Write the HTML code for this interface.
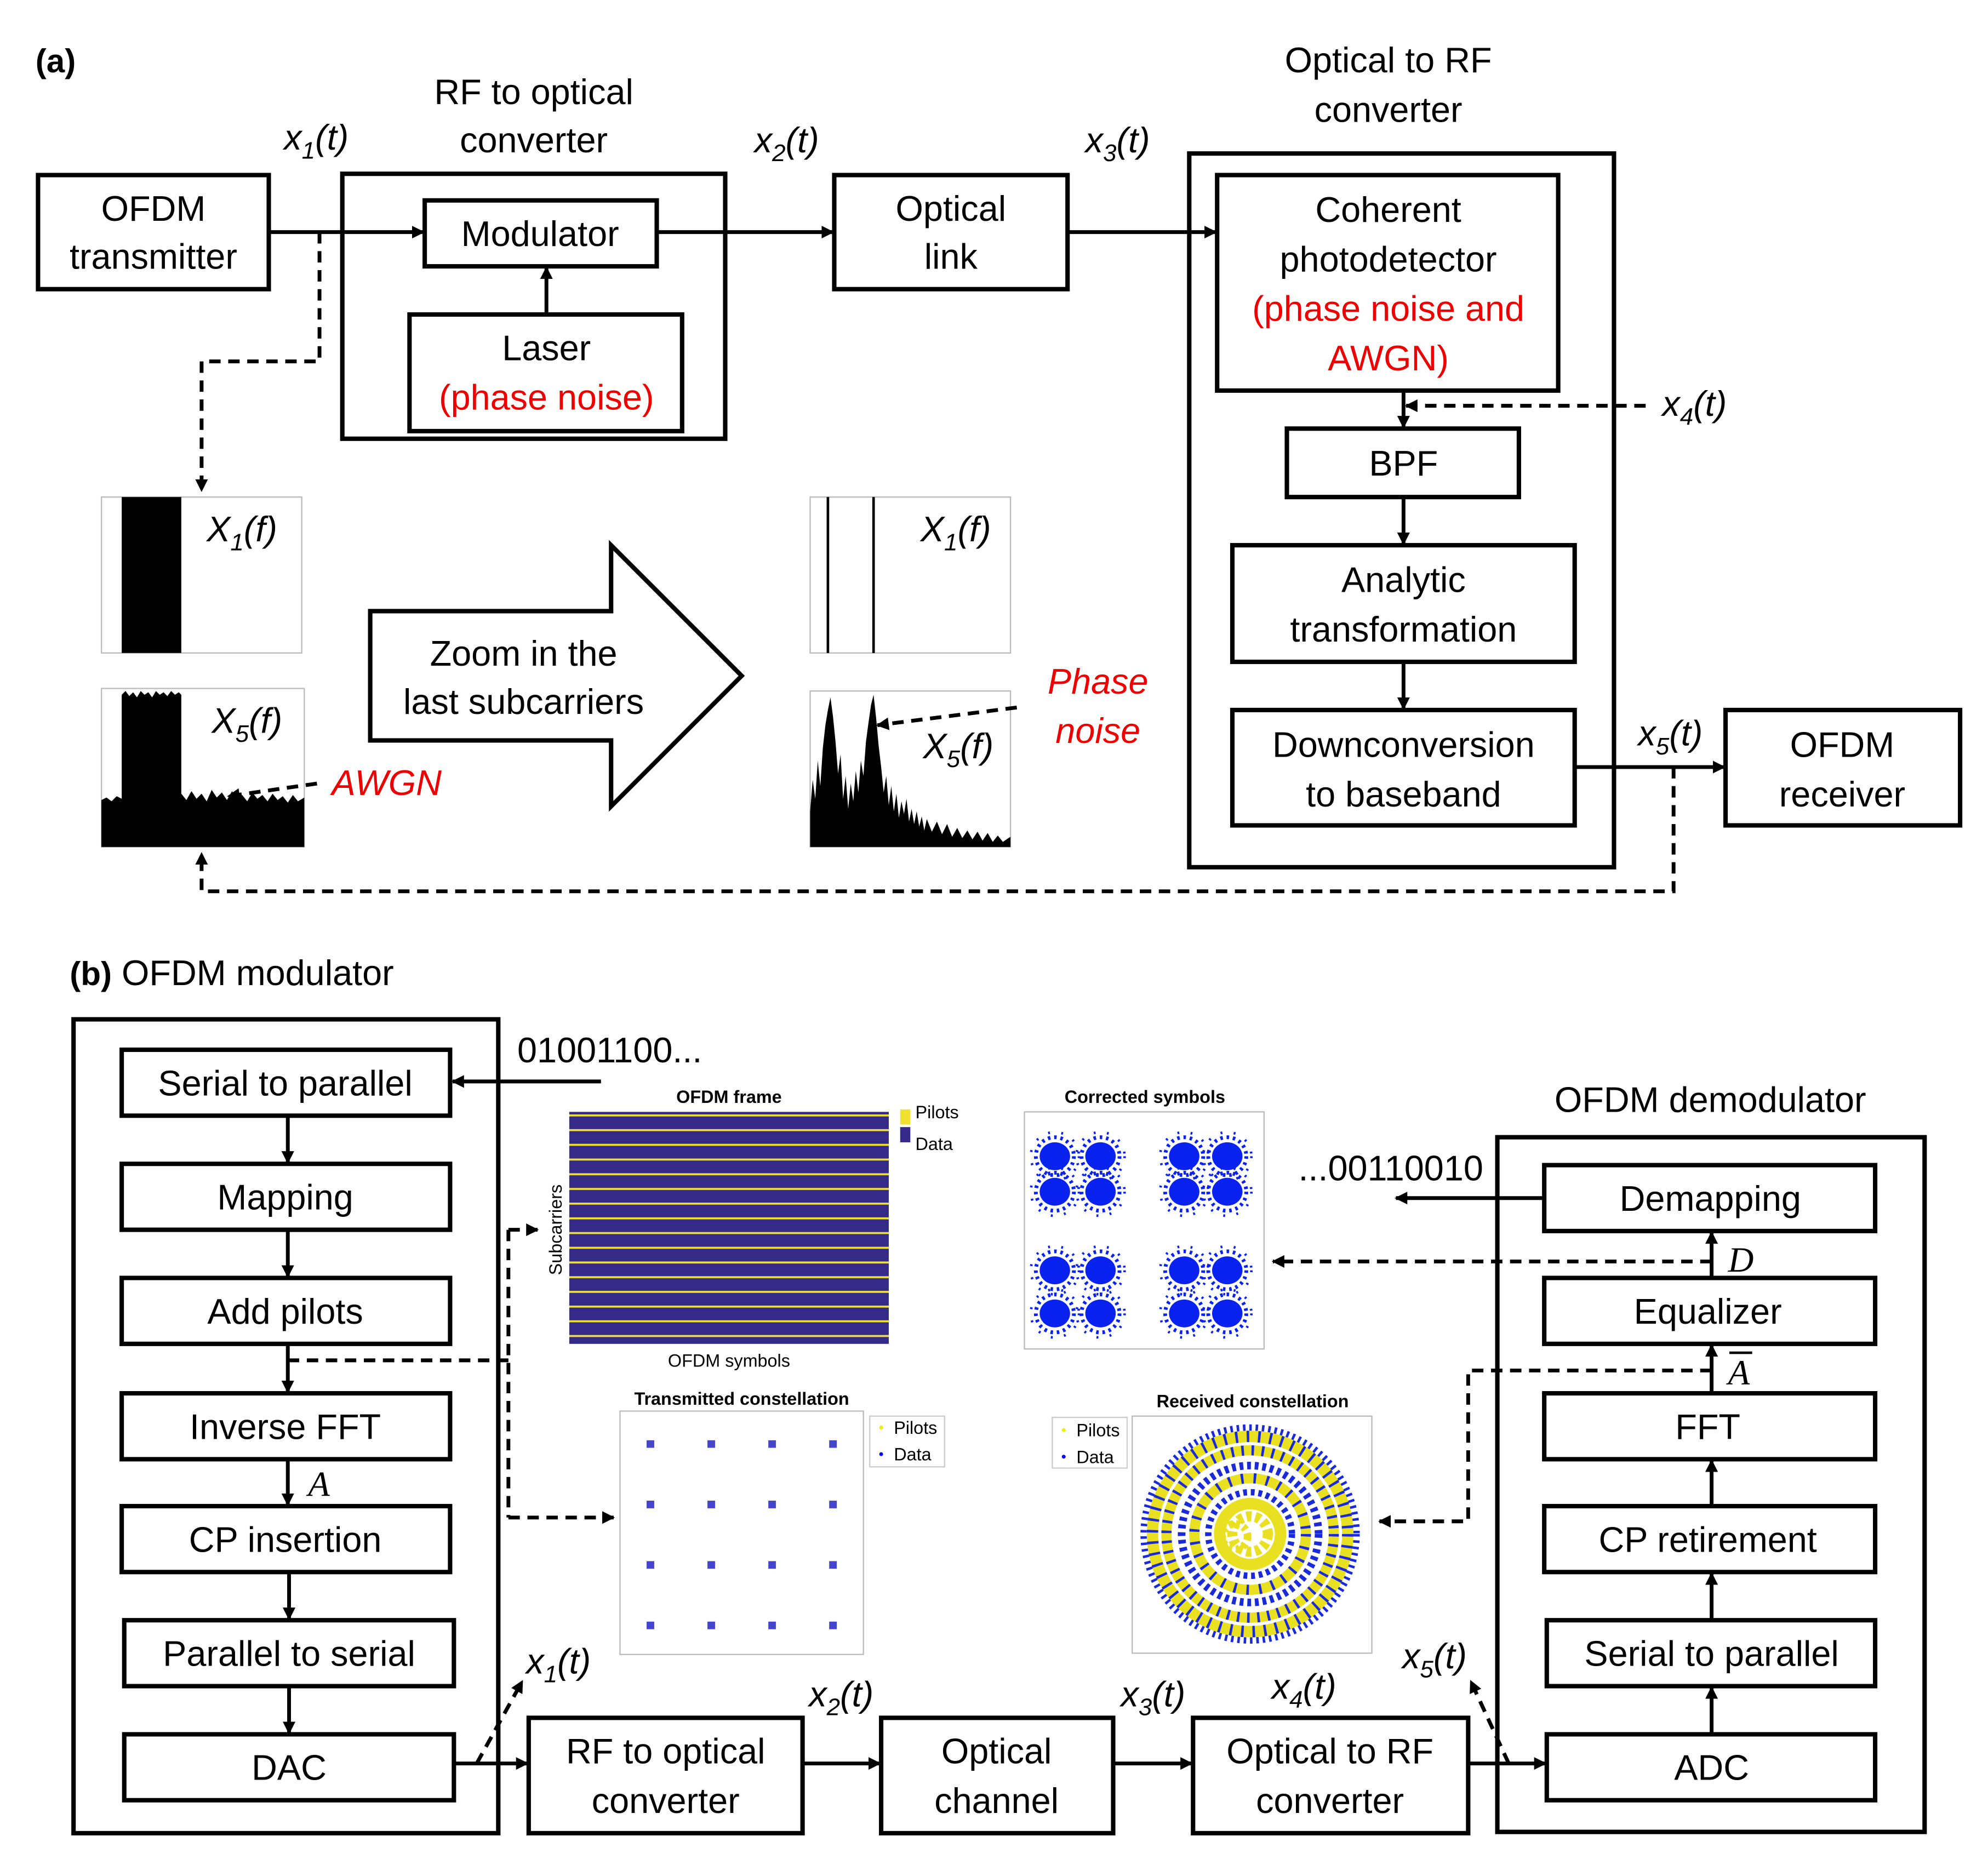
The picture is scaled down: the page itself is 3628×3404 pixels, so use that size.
<!DOCTYPE html>
<html><head><meta charset="utf-8"><style>
html,body{margin:0;padding:0;background:#fff;}
svg{display:block;}
text{font-family:"Liberation Sans",sans-serif;}
</style></head><body>
<svg width="3628" height="3404" viewBox="0 0 1568 1471" xmlns="http://www.w3.org/2000/svg">
<defs>
<marker id="ah" markerWidth="10" markerHeight="10" refX="9" refY="5" orient="auto" markerUnits="userSpaceOnUse"><path d="M0,0 L10,5 L0,10 z" fill="#000"/></marker>
<pattern id="fp" patternUnits="userSpaceOnUse" x="449" y="879" width="252" height="11.6"><rect width="252" height="11.6" fill="#352a87"/><rect y="0" width="252" height="1.6" fill="#f0e030"/></pattern>
<pattern id="tp" patternUnits="userSpaceOnUse" x="510" y="1136" width="48" height="47.7"><rect width="6" height="6" fill="#4444cc"/></pattern>
<g id="cl"><ellipse cx="0" cy="0" rx="12" ry="11" fill="#0a22f0"/><circle r="15" fill="none" stroke="#0a22f0" stroke-width="3" stroke-dasharray="2,3"/><circle r="19" fill="none" stroke="#0a22f0" stroke-width="2" stroke-dasharray="1.5,9"/></g>
</defs>
<rect width="1568" height="1471" fill="#fff"/>
<g fill="none" stroke="#000" stroke-width="3.5">
<rect x="30" y="138" width="182" height="90"/>
<rect x="270" y="137" width="302" height="209"/>
<rect x="335" y="158" width="183" height="52"/>
<rect x="323" y="248" width="215" height="92"/>
<rect x="658" y="138" width="184" height="90"/>
<rect x="938" y="121" width="335" height="563"/>
<rect x="960" y="138" width="269" height="170"/>
<rect x="1015" y="338" width="183" height="54"/>
<rect x="972" y="430" width="270" height="92"/>
<rect x="972" y="560" width="270" height="91"/>
<rect x="1361" y="560" width="185" height="91"/>
<polygon points="292,482 482,482 482,430 585,533 482,636 482,584 292,584"/>
</g>
<g stroke="#000" stroke-width="3" fill="none" marker-end="url(#ah)">
<line x1="212" y1="183" x2="334" y2="183"/>
<line x1="431" y1="248" x2="431" y2="211"/>
<line x1="518" y1="183" x2="657" y2="183"/>
<line x1="842" y1="183" x2="959" y2="183"/>
<line x1="1107" y1="308" x2="1107" y2="337"/>
<line x1="1107" y1="392" x2="1107" y2="429"/>
<line x1="1107" y1="522" x2="1107" y2="559"/>
<line x1="1242" y1="605" x2="1360" y2="605"/>
</g>
<g font-size="28" text-anchor="middle" fill="#000">
<text x="28" y="57" text-anchor="start" font-weight="bold" font-size="26">(a)</text>
<text x="121" y="174">OFDM</text><text x="121" y="212">transmitter</text>
<text x="421" y="82">RF to optical</text><text x="421" y="120">converter</text>
<text x="426" y="194">Modulator</text>
<text x="431" y="284">Laser</text><text x="431" y="323" fill="#e00">(phase noise)</text>
<text x="750" y="174">Optical</text><text x="750" y="212">link</text>
<text x="1095" y="57">Optical to RF</text><text x="1095" y="96">converter</text>
<text x="1095" y="175">Coherent</text><text x="1095" y="214">photodetector</text>
<text x="1095" y="253" fill="#e00">(phase noise and</text><text x="1095" y="292" fill="#e00">AWGN)</text>
<text x="1107" y="375">BPF</text>
<text x="1107" y="467">Analytic</text><text x="1107" y="506">transformation</text>
<text x="1107" y="597">Downconversion</text><text x="1107" y="636">to baseband</text>
<text x="1453" y="597">OFDM</text><text x="1453" y="636">receiver</text>
<text x="413" y="525">Zoom in the</text><text x="413" y="563">last subcarriers</text>
<text x="305" y="627" fill="#e00" font-style="italic">AWGN</text>
<text x="866" y="547" fill="#e00" font-style="italic">Phase</text><text x="866" y="586" fill="#e00" font-style="italic">noise</text>
</g>
<!-- spectra -->
<rect x="80" y="392" width="158" height="123" fill="none" stroke="#bbb" stroke-width="1"/>
<rect x="96" y="392" width="47" height="123" fill="#000"/>
<rect x="80" y="543" width="160" height="125" fill="none" stroke="#bbb" stroke-width="1"/>
<path fill="#000" d="M80,668 V631 L84,629 88,632 92,628 96,630 V548 L99,545 102,549 105,546 108,550 111,545 114,548 117,546 120,550 123,545 126,548 129,546 132,549 135,545 138,548 141,546 143,548 V626 L147,631 151,624 155,630 159,626 163,632 167,623 171,629 175,625 179,631 183,624 187,630 191,627 195,632 199,625 203,630 207,627 211,632 215,626 219,631 223,628 227,633 231,627 235,632 240,629 V668 Z"/>
<rect x="639" y="392" width="158" height="123" fill="none" stroke="#bbb" stroke-width="1"/>
<line x1="653" y1="392" x2="653" y2="515" stroke="#000" stroke-width="2"/>
<line x1="689" y1="392" x2="689" y2="515" stroke="#000" stroke-width="2"/>
<rect x="639" y="545" width="158" height="123" fill="none" stroke="#bbb" stroke-width="1"/>
<path fill="#000" d="M639,668 V640 L641,615 643,630 645,600 647,620 649,590 651,572 653,560 655,550 657,565 659,585 661,610 663,595 665,630 667,612 669,638 671,618 673,632 675,608 677,625 679,600 681,612 683,585 685,570 687,556 689,548 691,566 693,588 695,605 697,625 699,612 701,635 703,620 705,640 707,626 709,645 711,632 713,642 715,630 717,648 719,638 721,650 723,640 725,652 727,644 729,655 731,646 735,656 739,648 743,658 747,650 751,660 755,653 759,661 763,655 767,662 771,656 775,663 779,657 783,664 787,659 791,664 797,660 V668 Z"/>

<g stroke="#000" stroke-width="3" fill="none" stroke-dasharray="9,6" marker-end="url(#ah)">
<polyline points="252,183 252,285 159,285 159,387"/>
<line x1="1298" y1="320" x2="1109" y2="320"/>
<polyline points="1320,605 1320,703 159,703 159,673"/>
<line x1="250" y1="618" x2="180" y2="628"/>
<line x1="802" y1="558" x2="692" y2="572"/>
</g>
<g font-size="28" font-style="italic" fill="#000">
<text x="224" y="118">x<tspan font-size="19" dy="7">1</tspan><tspan dy="-7">(t)</tspan></text>
<text x="595" y="120">x<tspan font-size="19" dy="7">2</tspan><tspan dy="-7">(t)</tspan></text>
<text x="856" y="120">x<tspan font-size="19" dy="7">3</tspan><tspan dy="-7">(t)</tspan></text>
<text x="1311" y="328">x<tspan font-size="19" dy="7">4</tspan><tspan dy="-7">(t)</tspan></text>
<text x="1292" y="588">x<tspan font-size="19" dy="7">5</tspan><tspan dy="-7">(t)</tspan></text>
<text x="163" y="427">X<tspan font-size="19" dy="7">1</tspan><tspan dy="-7">(f)</tspan></text>
<text x="167" y="578">X<tspan font-size="19" dy="7">5</tspan><tspan dy="-7">(f)</tspan></text>
<text x="726" y="427">X<tspan font-size="19" dy="7">1</tspan><tspan dy="-7">(f)</tspan></text>
<text x="728" y="598">X<tspan font-size="19" dy="7">5</tspan><tspan dy="-7">(f)</tspan></text>
</g>

<g fill="none" stroke="#000" stroke-width="3.5">
<rect x="58" y="804" width="335" height="642"/>
<rect x="96" y="828" width="259" height="52"/>
<rect x="96" y="918" width="259" height="52"/>
<rect x="96" y="1008" width="259" height="52"/>
<rect x="96" y="1099" width="259" height="52"/>
<rect x="96" y="1188" width="259" height="52"/>
<rect x="98" y="1278" width="260" height="52"/>
<rect x="98" y="1368" width="260" height="52"/>
<rect x="1181" y="897" width="337" height="548"/>
<rect x="1218" y="919" width="261" height="52"/>
<rect x="1218" y="1008" width="261" height="52"/>
<rect x="1218" y="1099" width="261" height="52"/>
<rect x="1218" y="1188" width="261" height="52"/>
<rect x="1220" y="1278" width="259" height="52"/>
<rect x="1220" y="1368" width="259" height="52"/>
<rect x="417" y="1355" width="216" height="91"/>
<rect x="695" y="1355" width="183" height="91"/>
<rect x="941" y="1355" width="217" height="91"/>
</g>
<g stroke="#000" stroke-width="3" fill="none" marker-end="url(#ah)">
<line x1="474" y1="853" x2="357" y2="853"/>
<line x1="227" y1="880" x2="227" y2="917"/>
<line x1="227" y1="970" x2="227" y2="1007"/>
<line x1="227" y1="1060" x2="227" y2="1098"/>
<line x1="227" y1="1151" x2="227" y2="1187"/>
<line x1="228" y1="1240" x2="228" y2="1277"/>
<line x1="228" y1="1330" x2="228" y2="1367"/>
<line x1="358" y1="1391" x2="416" y2="1391"/>
<line x1="633" y1="1391" x2="694" y2="1391"/>
<line x1="878" y1="1391" x2="940" y2="1391"/>
<line x1="1158" y1="1391" x2="1219" y2="1391"/>
<line x1="1350" y1="1368" x2="1350" y2="1331"/>
<line x1="1350" y1="1278" x2="1350" y2="1241"/>
<line x1="1350" y1="1188" x2="1350" y2="1152"/>
<line x1="1350" y1="1099" x2="1350" y2="1061"/>
<line x1="1350" y1="1008" x2="1350" y2="972"/>
<line x1="1218" y1="945" x2="1101" y2="945"/>
</g>
<g stroke="#000" stroke-width="3" fill="none" stroke-dasharray="9,6">
<polyline points="227,1073 401,1073"/>
<line x1="401" y1="970" x2="401" y2="1197"/>
<line x1="401" y1="970" x2="424" y2="970" marker-end="url(#ah)"/>
<line x1="401" y1="1197" x2="484" y2="1197" marker-end="url(#ah)"/>
<line x1="1350" y1="995" x2="1004" y2="995" marker-end="url(#ah)"/>
<polyline points="1350,1081 1158,1081 1158,1200 1088,1200" marker-end="url(#ah)"/>
<line x1="376" y1="1391" x2="412" y2="1326" marker-end="url(#ah)"/>
<line x1="1190" y1="1391" x2="1160" y2="1326" marker-end="url(#ah)"/>
</g>
<g font-size="28" text-anchor="middle" fill="#000">
<text x="55" y="777" text-anchor="start"><tspan font-weight="bold" font-size="26">(b)</tspan>  OFDM modulator</text>
<text x="225" y="864">Serial to parallel</text>
<text x="225" y="954">Mapping</text>
<text x="225" y="1044">Add pilots</text>
<text x="225" y="1135">Inverse FFT</text>
<text x="225" y="1224">CP insertion</text>
<text x="228" y="1314">Parallel to serial</text>
<text x="228" y="1404">DAC</text>
<text x="1349" y="877">OFDM demodulator</text>
<text x="1349" y="955">Demapping</text>
<text x="1347" y="1044">Equalizer</text>
<text x="1347" y="1135">FFT</text>
<text x="1347" y="1224">CP retirement</text>
<text x="1350" y="1314">Serial to parallel</text>
<text x="1350" y="1404">ADC</text>
<text x="525" y="1391">RF to optical</text><text x="525" y="1430">converter</text>
<text x="786" y="1391">Optical</text><text x="786" y="1430">channel</text>
<text x="1049" y="1391">Optical to RF</text><text x="1049" y="1430">converter</text>
<text x="408" y="838" text-anchor="start">01001100...</text>
<text x="1097" y="931">...00110010</text>
</g>
<g font-size="28" font-style="italic" fill="#000">
<text x="243" y="1180" style="font-family:'Liberation Serif',serif">A</text>
<text x="1363" y="1003" style="font-family:'Liberation Serif',serif">D</text>
<text x="1363" y="1092" style="font-family:'Liberation Serif',serif">A</text>
<line x1="1364" y1="1067" x2="1382" y2="1067" stroke="#000" stroke-width="2"/>
</g>
<g font-size="28" font-style="italic" fill="#000">
<text x="415" y="1320">x<tspan font-size="19" dy="7">1</tspan><tspan dy="-7">(t)</tspan></text>
<text x="638" y="1346">x<tspan font-size="19" dy="7">2</tspan><tspan dy="-7">(t)</tspan></text>
<text x="884" y="1346">x<tspan font-size="19" dy="7">3</tspan><tspan dy="-7">(t)</tspan></text>
<text x="1003" y="1340">x<tspan font-size="19" dy="7">4</tspan><tspan dy="-7">(t)</tspan></text>
<text x="1106" y="1316">x<tspan font-size="19" dy="7">5</tspan><tspan dy="-7">(t)</tspan></text>
</g>
<!-- OFDM frame -->
<rect x="449" y="877" width="252" height="183" fill="url(#fp)"/>
<g font-size="14" fill="#000" text-anchor="middle">
<text x="575" y="870" font-weight="bold">OFDM frame</text>
<text x="575" y="1078">OFDM symbols</text>
<text x="443" y="970" transform="rotate(-90 443 970)">Subcarriers</text>
<text x="722" y="882" text-anchor="start">Pilots</text>
<text x="722" y="907" text-anchor="start">Data</text>
<text x="585" y="1108" font-weight="bold">Transmitted constellation</text>
<text x="903" y="870" font-weight="bold">Corrected symbols</text>
<text x="988" y="1110" font-weight="bold">Received constellation</text>
<text x="705" y="1131" text-anchor="start">Pilots</text>
<text x="705" y="1152" text-anchor="start">Data</text>
<text x="849" y="1133" text-anchor="start">Pilots</text>
<text x="849" y="1154" text-anchor="start">Data</text>
</g>
<rect x="710" y="875" width="8" height="12" fill="#f0e030"/>
<rect x="710" y="889" width="8" height="12" fill="#352a87"/>
<!-- transmitted -->
<rect x="489" y="1113" width="192" height="192" fill="none" stroke="#bbb" stroke-width="1"/>
<rect x="510" y="1136" width="160" height="155" fill="url(#tp)"/>
<rect x="686" y="1117" width="59" height="40" fill="none" stroke="#ccc" stroke-width="1"/>
<circle cx="695" cy="1126" r="1.5" fill="#ee0"/><circle cx="695" cy="1147" r="1.5" fill="#00f"/>
<!-- corrected -->
<rect x="808" y="877" width="189" height="187" fill="none" stroke="#bbb" stroke-width="1"/>
<use href="#cl" x="832" y="912"/><use href="#cl" x="832" y="940"/><use href="#cl" x="832" y="1002"/><use href="#cl" x="832" y="1036"/>
<use href="#cl" x="868" y="912"/><use href="#cl" x="868" y="940"/><use href="#cl" x="868" y="1002"/><use href="#cl" x="868" y="1036"/>
<use href="#cl" x="934" y="912"/><use href="#cl" x="934" y="940"/><use href="#cl" x="934" y="1002"/><use href="#cl" x="934" y="1036"/>
<use href="#cl" x="968" y="912"/><use href="#cl" x="968" y="940"/><use href="#cl" x="968" y="1002"/><use href="#cl" x="968" y="1036"/>
<!-- received -->
<rect x="893" y="1117" width="189" height="187" fill="none" stroke="#bbb" stroke-width="1"/>
<rect x="830" y="1118" width="59" height="40" fill="none" stroke="#ccc" stroke-width="1"/>
<circle cx="839" cy="1128" r="1.5" fill="#ee0"/><circle cx="839" cy="1149" r="1.5" fill="#00f"/>
<g fill="none" transform="translate(986 1210)">
<circle r="84" stroke="#1a2ad8" stroke-width="5" stroke-dasharray="2,3"/>
<circle r="77" stroke="#e8e020" stroke-width="9"/>
<circle r="77" stroke="#1a2ad8" stroke-width="9" stroke-dasharray="2,7"/>
<circle r="66" stroke="#e8e020" stroke-width="8"/>
<circle r="66" stroke="#1a2ad8" stroke-width="8" stroke-dasharray="2,6"/>
<circle r="54" stroke="#1a2ad8" stroke-width="6" stroke-dasharray="3,3"/>
<circle r="44" stroke="#e8e020" stroke-width="8"/>
<circle r="44" stroke="#1a2ad8" stroke-width="8" stroke-dasharray="2,8"/>
<circle r="33" stroke="#1a2ad8" stroke-width="5" stroke-dasharray="3,3"/>
<circle r="24" stroke="#e8e020" stroke-width="9"/>
<circle r="14" stroke="#e8e020" stroke-width="8" stroke-dasharray="4,3"/>
<circle cx="-12" cy="2" r="10" stroke="#e8e020" stroke-width="6" stroke-dasharray="3,3"/>
</g>
</svg>
</body></html>
